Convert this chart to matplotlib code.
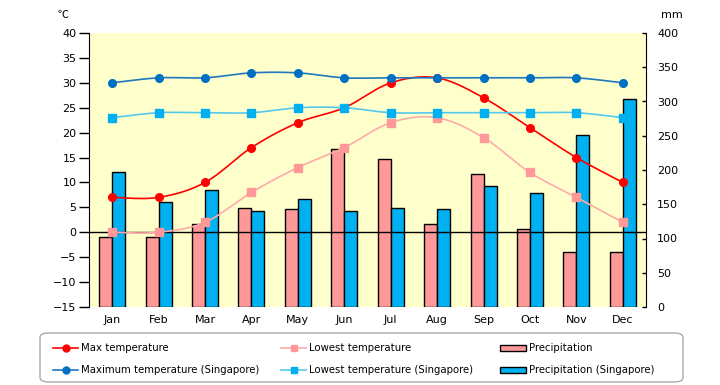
import numpy as np
import matplotlib
matplotlib.use("Agg")
import matplotlib.pyplot as plt
from matplotlib.lines import Line2D
from matplotlib.patches import Rectangle, FancyBboxPatch

plt.rcParams['font.family'] = ['DejaVu Sans', 'Noto Sans CJK JP']
plt.rcParams['axes.unicode_minus'] = True

months = ["Jan", "Feb", "Mar", "Apr", "May", "Jun", "Jul", "Aug", "Sep", "Oct", "Nov", "Dec"]
max_temp = [7, 7, 10, 17, 22, 25, 30, 31, 27, 21, 15, 10]
low_temp = [0, 0, 2, 8, 13, 17, 22, 23, 19, 12, 7, 2]
precip = [102, 102, 121, 144, 143, 231, 216, 121, 194, 114, 80, 80]
max_temp_sg = [30, 31, 31, 32, 32, 31, 31, 31, 31, 31, 31, 30]
low_temp_sg = [23, 24, 24, 24, 25, 25, 24, 24, 24, 24, 24, 23]
precip_sg = [197, 153, 171, 140, 158, 140, 144, 143, 177, 166, 251, 304]
labels = ["Max temperature", "Lowest temperature", "Precipitation",
          "Maximum temperature (Singapore)", "Lowest temperature (Singapore)", "Precipitation (Singapore)"]

RED, PINK_L, PINK = '#FF0000', '#FFAAAA', '#FF9999'
DBLUE_L, DBLUE = '#1F77C0', '#0070C0'
LBLUE_L, LBLUE = '#55C8EE', '#00B0F0'


def smooth(x, y, n=20):
    x = np.asarray(x, float); y = np.asarray(y, float)
    P = np.column_stack([x, y])
    P = np.vstack([P[0], P, P[-1]])
    out = []
    for i in range(1, len(P) - 2):
        p0, p1, p2, p3 = P[i - 1], P[i], P[i + 1], P[i + 2]
        t = np.linspace(0, 1, n, endpoint=False)[:, None]
        c = 0.5 * ((2 * p1) + (-p0 + p2) * t + (2 * p0 - 5 * p1 + 4 * p2 - p3) * t ** 2
                   + (-p0 + 3 * p1 - 3 * p2 + p3) * t ** 3)
        out.append(c)
    out.append(P[-2][None, :])
    c = np.vstack(out)
    return c[:, 0], c[:, 1]


W, H = 720, 385
fig = plt.figure(figsize=(7.2, 3.85), dpi=100)
L, R, T, B = 89, 646, 33, 307
rect = [L / W, 1 - B / H, (R - L) / W, (B - T) / H]
fig.patches.append(Rectangle(rect[:2], rect[2], rect[3], transform=fig.transFigure,
                             facecolor='#FFFFCC', edgecolor='none', zorder=0))
ax = fig.add_axes(rect)
ax2 = ax.twinx()
ax.set_zorder(2)
ax2.set_zorder(1)
ax.patch.set_visible(False)
ax2.patch.set_visible(False)

x = np.arange(len(months))
w = 0.28
ax2.bar(x - w / 2, precip, width=w, color=PINK, edgecolor='black', linewidth=1.0)
ax2.bar(x + w / 2, precip_sg, width=w, color=LBLUE, edgecolor='black', linewidth=1.0)
ax2.set_ylim(0, 400)
ax2.set_yticks(range(0, 401, 50))

ax.axhline(0, color='black', linewidth=1.0, zorder=1)

series = [
    (max_temp, RED, RED, 'o'),
    (low_temp, PINK_L, PINK, 's'),
    (max_temp_sg, DBLUE_L, DBLUE, 'o'),
    (low_temp_sg, LBLUE_L, LBLUE, 's'),
]
for vals, lc, mc, mk in series:
    sx, sy = smooth(x, vals)
    ax.plot(sx, sy, color=lc, linewidth=1.2, zorder=3)
    ax.plot(x, vals, linestyle='none', marker=mk, color=mc, markersize=5.5, zorder=4)

ax.set_xlim(-0.5, 11.5)
ax.set_ylim(-15, 40)
ax.set_yticks(range(-15, 41, 5))
ax.set_xticks(x)
ax.set_xticklabels(months)

for a in (ax, ax2):
    for s in a.spines.values():
        s.set_visible(False)
ax.spines['left'].set_visible(True)
ax2.spines['right'].set_visible(True)
ax.tick_params(axis='y', direction='out', length=7, width=1, labelsize=8, pad=2)
ax.tick_params(axis='x', length=0, labelsize=8, pad=6)
ax2.tick_params(axis='y', direction='in', length=3, width=1, labelsize=8, pad=8)

fig.text(63 / W, 1 - 15 / H, '℃', fontsize=8, ha='center', va='center',
         family=['Noto Sans CJK JP', 'DejaVu Sans'])
fig.text(672 / W, 1 - 15 / H, 'mm', fontsize=8, ha='center', va='center')

# manual legend
fig.patches.append(FancyBboxPatch((40 / W, 1 - 382 / H), (683 - 40) / W, (382 - 333) / H,
                                  boxstyle='round,pad=0,rounding_size=0.012',
                                  transform=fig.transFigure, facecolor='white',
                                  edgecolor='#AAAAAA', linewidth=1.0, zorder=5))
cols = [53, 281, 500]
rows = [348, 370]
styles = [(RED, RED, 'o'), (PINK_L, PINK, 's'), None,
          (DBLUE_L, DBLUE, 'o'), (LBLUE_L, LBLUE, 's'), None]
fills = [None, None, PINK, None, None, LBLUE]
for i, lab in enumerate(labels):
    cx = cols[i % 3]
    cy = rows[i // 3]
    fy = 1 - cy / H
    if styles[i] is not None:
        lc, mc, mk = styles[i]
        fig.add_artist(Line2D([cx / W, (cx + 25) / W], [fy, fy], color=lc, linewidth=1.2,
                              transform=fig.transFigure, zorder=6))
        fig.add_artist(Line2D([(cx + 12.5) / W], [fy], marker=mk, color=mc, markersize=5,
                              transform=fig.transFigure, zorder=7))
        tx = cx + 28
    else:
        fig.patches.append(Rectangle((cx / W, fy - 3 / H), 26 / W, 6 / H, transform=fig.transFigure,
                                     facecolor=fills[i], edgecolor='black', linewidth=1.0, zorder=6))
        tx = cx + 29
    fig.text(tx / W, fy, lab, fontsize=7.3, ha='left', va='center', zorder=7)

fig.savefig('out.png', dpi=100)
